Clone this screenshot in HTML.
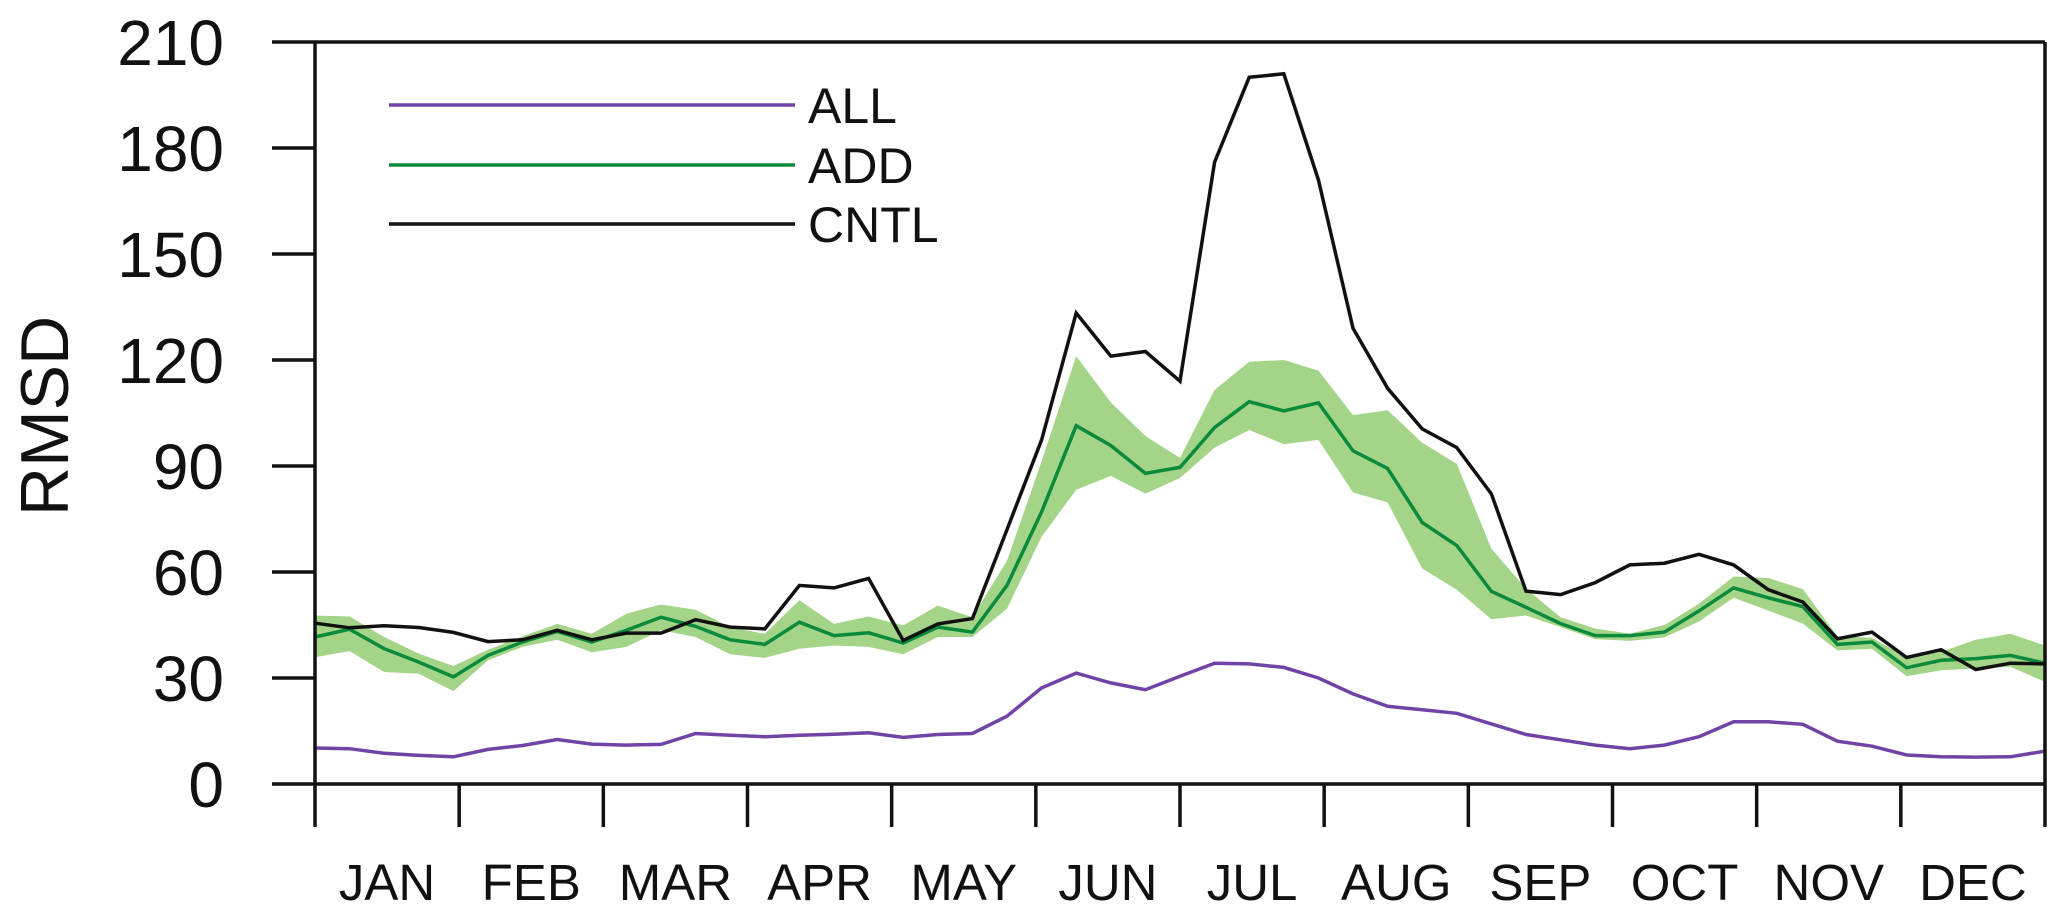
<!DOCTYPE html>
<html><head><meta charset="utf-8"><style>
html,body{margin:0;padding:0;background:#fff;}
svg{display:block;font-family:"Liberation Sans",Arial,sans-serif;}
</style></head><body>
<svg id="chart" width="2067" height="919" viewBox="0 0 2067 919" xmlns="http://www.w3.org/2000/svg">
<g id="band"></g>
<g id="lines"></g>
<g id="axes"></g>
<text transform="translate(68,416) rotate(-90)" text-anchor="middle" font-size="68" fill="#111">RMSD</text>
<g>
  <line x1="389" y1="105" x2="795" y2="105" stroke="#6f44a6" stroke-width="3.5"/>
  <text x="808" y="123" font-size="50" fill="#111">ALL</text>
  <line x1="389" y1="165" x2="795" y2="165" stroke="#0b8a3c" stroke-width="3.5"/>
  <text x="808" y="183" font-size="50" fill="#111">ADD</text>
  <line x1="389" y1="224" x2="795" y2="224" stroke="#111" stroke-width="3.5"/>
  <text x="808" y="242" font-size="50" fill="#111">CNTL</text>
</g>
</svg>
<script>
const months = ["JAN","FEB","MAR","APR","MAY","JUN","JUL","AUG","SEP","OCT","NOV","DEC"];
const yTicks = [0,30,60,90,120,150,180,210];
const cntl = [45.5,44.2,44.8,44.3,42.9,40.3,40.8,43.5,40.8,42.7,42.7,46.5,44.4,43.9,56.2,55.5,58.2,40.6,45.3,46.8,72,97.4,133.3,121.1,122.4,114,176,200,201,171,129,112,100.5,95.2,82.1,54.6,53.6,57,62,62.5,65,62,55,51.5,41.1,43,35.8,38,32.4,34.2,34];
const add = [41.6,43.8,38.3,34.5,30.3,36.4,40.2,43.2,40.2,43.5,47.2,44.6,40.8,39.5,45.8,42,42.8,39.9,44.4,43,56.2,77,101.4,95.8,87.9,89.6,100.9,108.2,105.6,107.9,94.3,89.3,74,67.5,54.5,50,45.4,42,42,43,49,55.5,52.7,50.2,39.5,40.2,32.9,35,35.5,36.4,34.2];
const addUpper = [47.7,47.4,41.6,36.9,33.4,38,41.8,45.3,42.5,48.2,50.8,49.3,44.4,42.5,52,45.3,47.4,44.9,50.5,47.2,63.2,91.3,121.1,108,98.5,92.3,111.5,119.5,120,117,104.4,105.8,96.6,90.6,66.6,55.3,47.2,44,42.5,45,51,58.7,58.3,55.2,41.8,41.4,35.8,37.4,40.8,42.5,39.2];
const addLower = [35.9,37.6,31.7,31.2,26.3,35,38.8,40.8,37.3,38.8,43.5,41.6,36.7,35.7,38.3,39.2,38.8,36.7,41.6,41.6,49.6,70,83.3,87.2,82.2,86.6,95.2,100.2,96.2,97.4,82.5,79.7,61,55,46.6,47.7,44.4,41,40.5,41.5,46,52.7,49.1,45.4,37.8,38.3,30.5,32.2,32.7,33.2,28.9];
const all = [10.2,10,8.7,8.1,7.7,9.8,10.9,12.6,11.3,11,11.2,14.3,13.8,13.4,13.8,14.1,14.5,13.2,14,14.3,19.2,27.2,31.4,28.6,26.7,30.5,34.2,34,33,30,25.5,22,21,20,17,14,12.5,11,10,11,13.4,17.6,17.6,16.9,12.1,10.7,8.2,7.7,7.6,7.7,9.3];

const L=315,R=2045,T=42,B=784,YMAX=210;
const NS='http://www.w3.org/2000/svg';
function xs(i){return L+(R-L)*i/(cntl.length-1);}
function ys(v){return B-(B-T)*v/YMAX;}
function mk(tag,attrs,parent){const e=document.createElementNS(NS,tag);for(const k in attrs)e.setAttribute(k,attrs[k]);parent.appendChild(e);return e;}

const band=document.getElementById('band');
let d='';
addUpper.forEach((v,i)=>{d+=(i?'L':'M')+xs(i).toFixed(1)+','+ys(v).toFixed(1);});
for(let i=addLower.length-1;i>=0;i--){d+='L'+xs(i).toFixed(1)+','+ys(addLower[i]).toFixed(1);}
d+='Z';
const bp=mk('path',{d:d,fill:'#a3d487',stroke:'none'},band);



const lines=document.getElementById('lines');
function poly(arr,color,name){
  const pts=arr.map((v,i)=>xs(i).toFixed(1)+','+ys(v).toFixed(1)).join(' ');
  const p=mk('polyline',{points:pts,fill:'none',stroke:color,'stroke-width':3.5,'stroke-linejoin':'miter'},lines);
  
  
}
poly(all,'#6f44a6','all-line');
poly(add,'#0b8a3c','add-line');
poly(cntl,'#111','cntl-line');

const ax=document.getElementById('axes');
const frame=mk('path',{d:`M${L},${T}H${R}M${L},${T}V${B+43}M${L},${B}H${R}M${R},${T}V${B+43}`,stroke:'#111','stroke-width':3.5,fill:'none'},ax);


yTicks.forEach(v=>{
  const t=mk('line',{x1:L-43,x2:L,y1:ys(v),y2:ys(v),stroke:'#111','stroke-width':3.5},ax);
  
  
  const tx=mk('text',{x:224,y:ys(v)+23,'text-anchor':'end','font-size':64,fill:'#111'},ax);
  
  
  tx.textContent=v;
});
const mw=(R-L)/months.length;
months.forEach((m,i)=>{
  const x=L+mw*i;
  if(i>0){
    const t=mk('line',{x1:x,x2:x,y1:B,y2:B+43,stroke:'#111','stroke-width':3.5},ax);
    
    
  }
  const tx=mk('text',{x:x+mw/2,y:900,'text-anchor':'middle','font-size':51,fill:'#111'},ax);
  
  
  tx.textContent=m;
});
</script>
</body></html>
